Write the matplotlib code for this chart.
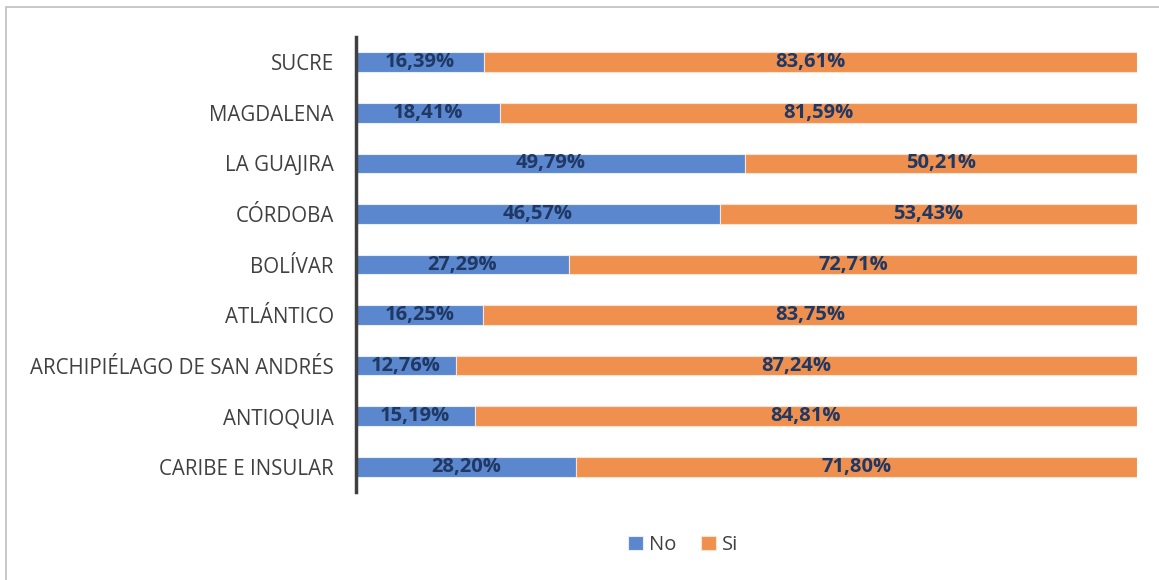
import matplotlib

matplotlib.use("Agg")

import matplotlib.pyplot as plt
from matplotlib.patches import Rectangle

categories = [
    "CARIBE E INSULAR",
    "ANTIOQUIA",
    "ARCHIPIÉLAGO DE SAN ANDRÉS",
    "ATLÁNTICO",
    "BOLÍVAR",
    "CÓRDOBA",
    "LA GUAJIRA",
    "MAGDALENA",
    "SUCRE",
]
no_values = [28.20, 15.19, 12.76, 16.25, 27.29, 46.57, 49.79, 18.41, 16.39]
si_values = [71.80, 84.81, 87.24, 83.75, 72.71, 53.43, 50.21, 81.59, 83.61]

BLUE = "#5B87CE"
ORANGE = "#EF904E"
LABEL_COLOR = "#1F3864"
TEXT_COLOR = "#404040"

plt.rcParams["font.family"] = ["Open Sans", "DejaVu Sans"]

fig = plt.figure(figsize=(11.59, 5.8), dpi=100)
fig.patch.set_facecolor("white")

# outer chart border
fig.patches.append(Rectangle((6 / 1159, -0.01), 1.02, 1 - 7 / 580 + 0.01,
                             transform=fig.transFigure, fill=False,
                             edgecolor="#BFBFBF", linewidth=1.2))

ax = fig.add_axes([356 / 1159, 1 - 492 / 580, (1137 - 356) / 1159, (492 - 37) / 580])

y = list(range(len(categories)))
bar_h = 0.39
ax.barh(y, no_values, height=bar_h, color=BLUE, edgecolor="#E6EEF8",
        linewidth=0.8, label="No")
ax.barh(y, si_values, left=no_values, height=bar_h, color=ORANGE,
        edgecolor="#FBE3D2", linewidth=0.8, label="Si")

for i, (n, s) in enumerate(zip(no_values, si_values)):
    ax.text(n / 2, i, f"{n:.2f}%".replace(".", ","), ha="center", va="center",
            fontsize=14.5, fontweight="bold", color=LABEL_COLOR)
    ax.text(n + s / 2, i, f"{s:.2f}%".replace(".", ","), ha="center", va="center",
            fontsize=14.5, fontweight="bold", color=LABEL_COLOR)

ax.set_xlim(0, 100)
ax.set_ylim(-0.5, len(categories) - 0.5)
ax.set_yticks(y)
ax.set_yticklabels(categories, fontsize=14.8, color=TEXT_COLOR)
ax.tick_params(axis="y", length=0, pad=16)
ax.set_xticks([])
for side in ["top", "right", "bottom"]:
    ax.spines[side].set_visible(False)
ax.spines["left"].set_linewidth(2.5)
ax.spines["left"].set_color("#404040")

leg = fig.legend(loc="center", bbox_to_anchor=(683 / 1159, 1 - 545 / 580),
                 ncol=2, frameon=False, fontsize=14.5, handlelength=0.75,
                 handleheight=0.75, handletextpad=0.3, columnspacing=1.2)
for t in leg.get_texts():
    t.set_color(TEXT_COLOR)

fig.savefig("out.png", dpi=100, facecolor="white")
